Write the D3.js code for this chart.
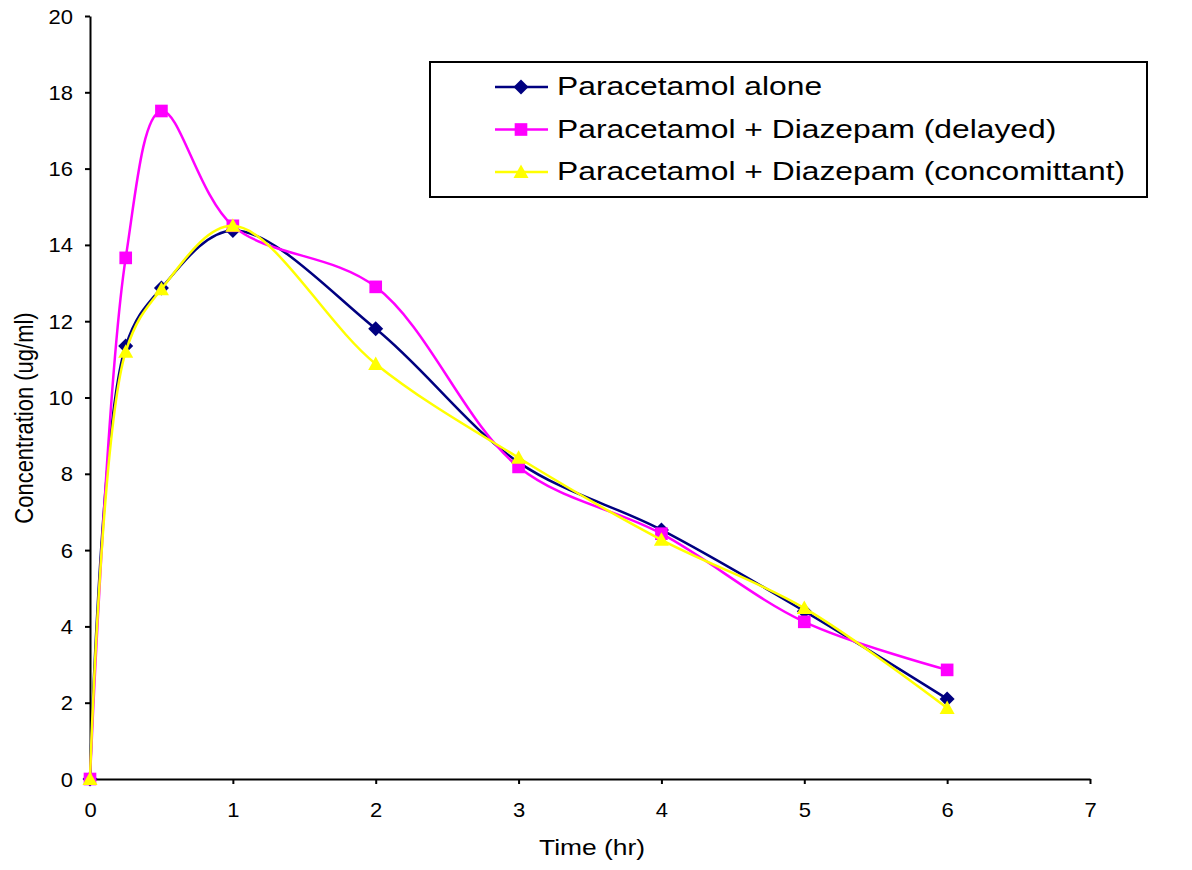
<!DOCTYPE html>
<html>
<head>
  <meta charset="utf-8">
  <title>Paracetamol concentration</title>
  <script src="https://cdn.jsdelivr.net/npm/d3@7/dist/d3.min.js"></script>
  <style>
    body { margin: 0; background: #fff; }
    text { font-family: "Liberation Sans", Arial, sans-serif; fill: #000; }
  </style>
</head>
<body>
<svg id="chart" width="1192" height="870"></svg>
<script>
  // data
  const times = [0, 0.25, 0.5, 1, 2, 3, 4, 5, 6];
  const alone = [0, 11.35, 12.87, 14.38, 11.8, 8.3, 6.53, 4.4, 2.1];
  const delayed = [0, 13.66, 17.51, 14.5, 12.9, 8.18, 6.43, 4.12, 2.86];
  const concomitant = [0, 11.2, 12.84, 14.5, 10.88, 8.42, 6.27, 4.48, 1.86];
  const seriesNames = ['Paracetamol alone', 'Paracetamol + Diazepam (delayed)', 'Paracetamol + Diazepam (concomittant)'];
  const xTicks = [0, 1, 2, 3, 4, 5, 6, 7];
  const yTicks = [0, 2, 4, 6, 8, 10, 12, 14, 16, 18, 20];

  const svg = d3.select('#chart');
  const x = d3.scaleLinear().domain([0, 7]).range([90, 1090]);
  const y = d3.scaleLinear().domain([0, 20]).range([779, 16]);

  // the original text is a bit wide, so stretch it sideways
  const sx = 1.2;

  // axes
  const yAxis = svg.append('g')
    .attr('transform', 'translate(90,0)')
    .call(d3.axisLeft(y).tickValues(yTicks).tickSize(5).tickSizeOuter(0).tickFormat(d3.format('d')));
  const xAxis = svg.append('g')
    .attr('transform', 'translate(0,779)')
    .call(d3.axisBottom(x).tickValues(xTicks).tickSize(5).tickSizeOuter(0).tickFormat(d3.format('d')));
  [xAxis, yAxis].forEach(a => {
    a.selectAll('path, line').attr('stroke', '#000').attr('stroke-width', 2);
    a.selectAll('text')
      .attr('fill', '#000')
      .style('font-size', '20px')
      .style('font-family', '"Liberation Sans", Arial, sans-serif');
  });
  yAxis.selectAll('text')
    .attr('x', -17 / 1.1)
    .attr('dy', '0.35em')
    .attr('transform', 'scale(1.1,1)');
  xAxis.selectAll('text')
    .attr('y', 38)
    .attr('dy', 0)
    .attr('transform', 'scale(1.1,1)');

  svg.append('text')
    .attr('transform', `translate(592,855) scale(${sx},1)`)
    .attr('text-anchor', 'middle')
    .style('font-size', '22px')
    .text('Time (hr)');
  svg.append('text')
    .attr('transform', `translate(33,418) rotate(-90) scale(1,${sx})`)
    .attr('text-anchor', 'middle')
    .style('font-size', '22px')
    .text('Concentration (ug/ml)');

  const colors = ['#000080', '#ff00ff', '#ffff00'];
  const valuesList = [alone, delayed, concomitant];

  // marker shapes, drawn around 0,0
  const markers = [
    () => 'M0,-7.5L7.5,0L0,7.5L-7.5,0Z',
    () => d3.symbol().type(d3.symbolSquare).size(160)(),
    () => 'M0,-7.5L7.5,6L-7.5,6Z'
  ];

  const line = d3.line()
    .x(d => x(d[0]))
    .y(d => y(d[1]))
    .curve(d3.curveCatmullRom.alpha(0.5));

  valuesList.forEach((vals, i) => {
    const pts = times.map((t, j) => [t, vals[j]]);
    const g = svg.append('g');
    g.append('path')
      .attr('d', line(pts))
      .attr('fill', 'none')
      .attr('stroke', colors[i])
      .attr('stroke-width', 2.5);
    g.selectAll('path.mk')
      .data(pts)
      .join('path')
      .attr('class', 'mk')
      .attr('transform', d => `translate(${x(d[0])},${y(d[1])})`)
      .attr('d', markers[i]())
      .attr('fill', colors[i]);
  });

  // legend
  const legend = svg.append('g');
  legend.append('rect')
    .attr('x', 430).attr('y', 62)
    .attr('width', 717).attr('height', 135)
    .attr('fill', '#fff')
    .attr('stroke', '#000')
    .attr('stroke-width', 2);
  seriesNames.forEach((name, i) => {
    const ly = 87 + i * 42.5;
    legend.append('line')
      .attr('x1', 495).attr('x2', 548)
      .attr('y1', ly).attr('y2', ly)
      .attr('stroke', colors[i]).attr('stroke-width', 2.5);
    legend.append('path')
      .attr('transform', `translate(521,${ly})`)
      .attr('d', markers[i]())
      .attr('fill', colors[i]);
    legend.append('text')
      .attr('transform', `translate(557,${ly + 8}) scale(${sx},1)`)
      .style('font-size', '26.5px')
      .text(name);
  });
</script>
</body>
</html>
